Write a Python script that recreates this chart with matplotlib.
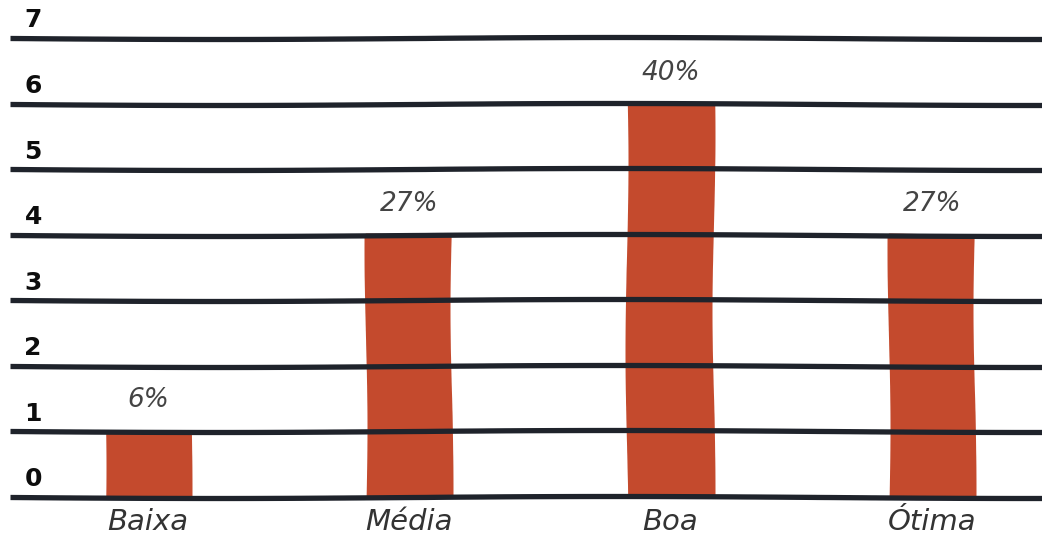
import numpy as np
import matplotlib.pyplot as plt
from matplotlib import transforms

# dados do grafico
categorias = ['Baixa', 'Média', 'Boa', 'Ótima']
valores = [1, 4, 6, 4]
rotulos = ['6%', '27%', '40%', '27%']
yticks = [0, 1, 2, 3, 4, 5, 6, 7]

cor_barra = '#C44A2D'
cor_linha = '#1F232B'

fig = plt.figure(figsize=(10.42, 5.4), dpi=100)
ax = fig.add_axes([0.0096, 0.0796, 0.99, 0.85])

x = np.arange(len(categorias))
barras = ax.bar(x, valores, width=0.33, color=cor_barra, zorder=1)
for b in barras:
    b.set_sketch_params(1.5, 400, 2)

for v in yticks:
    ln = ax.axhline(v, color=cor_linha, lw=3.8, zorder=3, clip_on=False,
                    solid_capstyle='butt')
    ln.set_sketch_params(1.0, 900, 2)

fonte_txt = dict(style='italic', fontfamily='DejaVu Sans', fontweight='light')

for xi, v, r in zip(x, valores, rotulos):
    ax.annotate(r, (xi, v), xytext=(0, 13), textcoords='offset points',
                ha='center', va='bottom', fontsize=19, color='#444444',
                **fonte_txt)

trans = transforms.blended_transform_factory(ax.transAxes, ax.transData)
for v in yticks:
    ax.annotate(str(v), (0.014, v), xycoords=trans, xytext=(0, 4),
                textcoords='offset points', ha='left', va='bottom',
                fontsize=18, fontweight='heavy', fontfamily='DejaVu Sans',
                color='#0d0d0d')

ax.set_xlim(-0.528, 3.42)
ax.set_ylim(0, 7)
ax.set_xticks(x)
ax.set_xticklabels(categorias, fontsize=21, color='#333333', **fonte_txt)
ax.tick_params(axis='x', length=0, pad=8)
ax.set_yticks([])
for s in ax.spines.values():
    s.set_visible(False)

plt.savefig('out.png', dpi=100)
